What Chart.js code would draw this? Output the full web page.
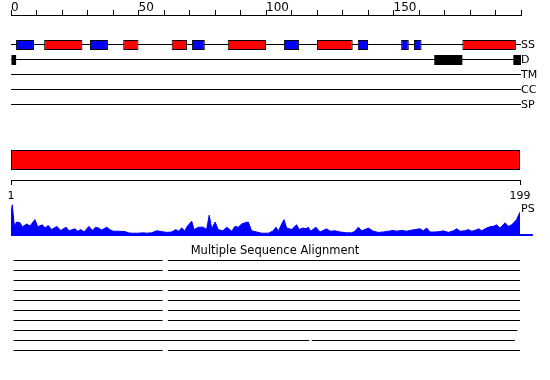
<!DOCTYPE html>
<html>
<head>
<meta charset="utf-8">
<script src="https://cdn.jsdelivr.net/npm/chart.js@4.4.1/dist/chart.umd.min.js"></script>
<style>
  body { margin: 0; background: #fff; }
  #wrap { position: relative; width: 550px; height: 380px; background: #fff; overflow: hidden; }
  #wrap canvas { position: absolute; left: 0; }
</style>
</head>
<body>
<div id="wrap">
  <canvas id="features" width="550" height="115" style="top:0px"></canvas>
  <canvas id="chain" width="550" height="60" style="top:140px"></canvas>
  <canvas id="ps" width="550" height="50" style="top:190px"></canvas>
  <canvas id="msa" width="550" height="120" style="top:240px"></canvas>
</div>
<script>
// ruler on top
const rulerTicks = [0, 10, 20, 30, 40, 50, 60, 70, 80, 90, 100, 110, 120, 130, 140, 150, 160, 170, 180, 190, 200]
const rulerLabels = [0, 50, 100, 150]

// feature tracks
const trackNames = ['SS', 'D', 'TM', 'CC', 'SP']
const strand = [[2, 9], [31, 38], [71, 76], [107, 113], [136, 140], [153, 156], [158, 161]]
const helix = [[13, 28], [44, 50], [63, 69], [85, 100], [120, 134], [177, 198]]
const disorder = [[0, 2], [166, 177], [197, 200]]

// whole chain
const chainEnds = [1, 199]

// PS profile (residue, value)
const psPos = [1, 1.5, 2.3, 3.2, 4.5, 5.4, 7.1, 8.4, 10.3, 11.4,
  13.2, 14.2, 15.5, 16.8, 18.8, 20.4, 22.4, 23.6, 25.9, 26.9,
  28.2, 29.4, 31.3, 32.6, 33.9, 35, 36.3, 38.2, 39.9, 40.8,
  42.7, 45.3, 46.6, 47.9, 50.5, 52.5, 53.8, 55.7, 57.7, 59.6,
  61.6, 63.5, 65.1, 66.1, 67.4, 68.7, 69.3, 71.3, 72.2, 73.9,
  75.8, 77.1, 78.1, 79.1, 80.4, 81.6, 83.4, 84.9, 86.9, 88.1,
  89.4, 90.7, 92, 93.3, 94.6, 96.6, 98.5, 101.1, 102.8, 104.1,
  105, 106.3, 107.2, 108.2, 110.2, 112.1, 113.1, 114.5, 115.8, 116.6,
  117.6, 119.6, 121.2, 123.8, 125.1, 127, 129, 131.6, 133.5, 134.8,
  136.1, 137.4, 138.7, 140, 141.9, 143.9, 145.8, 147.8, 149.7, 151,
  153, 154.9, 156.2, 158.2, 160.1, 161.4, 162.7, 164, 165.9, 167.9,
  169.2, 171.1, 173.1, 174.4, 175.7, 177.6, 178.9, 180.2, 181.5, 183,
  184.1, 186, 187.3, 188.6, 189.9, 191.2, 193.2, 194.4, 195.8, 197.7,
  199]
const psVal = [0.55, 0.78, 0.25, 0.35, 0.33, 0.23, 0.30, 0.25, 0.41, 0.23,
  0.28, 0.20, 0.26, 0.16, 0.24, 0.14, 0.22, 0.13, 0.18, 0.12,
  0.16, 0.10, 0.24, 0.14, 0.22, 0.20, 0.15, 0.22, 0.14, 0.12,
  0.12, 0.11, 0.08, 0.07, 0.07, 0.08, 0.07, 0.08, 0.13, 0.11,
  0.09, 0.10, 0.16, 0.12, 0.20, 0.12, 0.22, 0.37, 0.16, 0.22,
  0.22, 0.16, 0.52, 0.18, 0.35, 0.16, 0.13, 0.22, 0.12, 0.24,
  0.22, 0.30, 0.33, 0.35, 0.13, 0.10, 0.07, 0.07, 0.12, 0.22,
  0.12, 0.30, 0.41, 0.20, 0.16, 0.28, 0.16, 0.20, 0.18, 0.22,
  0.12, 0.22, 0.10, 0.18, 0.12, 0.13, 0.10, 0.08, 0.08, 0.12,
  0.22, 0.13, 0.16, 0.20, 0.12, 0.09, 0.10, 0.12, 0.14, 0.12,
  0.14, 0.12, 0.14, 0.16, 0.18, 0.13, 0.20, 0.10, 0.10, 0.11,
  0.13, 0.09, 0.13, 0.18, 0.12, 0.13, 0.16, 0.12, 0.14, 0.18,
  0.13, 0.20, 0.23, 0.24, 0.28, 0.20, 0.33, 0.24, 0.28, 0.41,
  0.60]
const psBaseEnd = 204
const psLabelAt = 0.68

// alignment hits, one row per hit, each a list of [start, end]
const msaTitle = 'Multiple Sequence Alignment'
const msaRows = [
  [[2, 60], [62, 199]],
  [[2, 60], [62, 199]],
  [[2, 199]],
  [[2, 60], [62, 199]],
  [[2, 60], [62, 199]],
  [[2, 60], [62, 199]],
  [[2, 60], [62, 199]],
  [[2, 198]],
  [[2, 117], [118, 197]],
  [[2, 60], [62, 199]]
]

Chart.defaults.font.family = 'DejaVu Sans'
Chart.defaults.color = '#000'
Chart.defaults.animation = false
Chart.defaults.plugins.legend.display = false
Chart.defaults.plugins.tooltip.enabled = false

function segs(list, row) {
  return list.map(s => ({ x: s, y: row }))
}

// side axis with fixed width and no label overhang padding
function fixWidth(w) {
  return s => { s.width = w; s.paddingTop = 0; s.paddingBottom = 0 }
}

// invisible side axis used only as a margin
function spacer(pos, w, extra) {
  return Object.assign({
    position: pos, display: true, afterFit: fixWidth(w),
    ticks: { display: false }, grid: { display: false, drawTicks: false }, border: { display: false }
  }, extra || {})
}

// top panel: ruler + feature tracks
new Chart(document.getElementById('features'), {
  type: 'bar',
  data: {
    datasets: [
      { data: segs(strand, 0), backgroundColor: '#0000ff', borderColor: '#000', borderWidth: 1, barThickness: 10 },
      { data: segs(helix, 0), backgroundColor: '#ff0000', borderColor: '#000', borderWidth: 1, barThickness: 10 },
      { data: segs(disorder, 1), backgroundColor: '#000', borderWidth: 0, barThickness: 10 }
    ]
  },
  options: {
    indexAxis: 'y',
    responsive: false,
    datasets: { bar: { grouped: false, inflateAmount: 0, borderSkipped: false } },
    layout: { padding: { left: 11 } },
    scales: {
      x: {
        type: 'linear', position: 'top', min: 0, max: 200,
        afterBuildTicks: s => { s.ticks = rulerTicks.map(v => ({ value: v })) },
        afterFit: s => { s.height = 15 },
        ticks: {
          autoSkip: false, align: 'start', maxRotation: 0, padding: -5, font: { size: 12 },
          callback: v => rulerLabels.includes(v) ? String(v) : ''
        },
        grid: { drawOnChartArea: false, tickLength: 5, color: '#000' },
        border: { color: '#000' }
      },
      y: {
        type: 'linear', position: 'right', reverse: true, min: -2, max: 4.6667,
        offset: false,
        afterBuildTicks: s => { s.ticks = trackNames.map((n, i) => ({ value: i })) },
        afterFit: fixWidth(29),
        ticks: { padding: 0, font: { size: 11 }, callback: v => trackNames[v] },
        grid: { color: '#000', drawTicks: false, offset: false },
        border: { display: false }
      }
    }
  }
})

// whole chain bar with end labels
new Chart(document.getElementById('chain'), {
  type: 'bar',
  data: {
    labels: ['chain'],
    datasets: [{ data: [{ x: chainEnds, y: 'chain' }], backgroundColor: '#ff0000', borderColor: '#000',
      borderWidth: 1, borderSkipped: false, barThickness: 20, inflateAmount: 0 }]
  },
  options: {
    indexAxis: 'y',
    responsive: false,
    layout: { padding: { left: 11, right: 30 } },
    scales: {
      x: {
        type: 'linear', min: chainEnds[0], max: chainEnds[1],
        afterBuildTicks: s => { s.ticks = chainEnds.map(v => ({ value: v })) },
        afterFit: s => { s.height = 20 },
        ticks: { autoSkip: false, maxRotation: 0, padding: 5, font: { size: 11 } },
        grid: { drawOnChartArea: false, tickLength: 5, color: '#000' },
        border: { color: '#000' }
      },
      y: { display: false }
    }
  }
})

// PS profile
new Chart(document.getElementById('ps'), {
  type: 'line',
  data: {
    datasets: [
      { data: psPos.map((p, i) => ({ x: p, y: psVal[i] })), fill: 'origin', backgroundColor: '#0000ff',
        borderColor: '#0000ff', borderWidth: 1, pointRadius: 0, tension: 0 },
      { data: [{ x: 1, y: 0 }, { x: psBaseEnd, y: 0 }], fill: false, borderColor: '#0000ff', borderWidth: 4,
        pointRadius: 0, clip: { left: 0, top: 0, right: 20, bottom: 0 } }
    ]
  },
  options: {
    responsive: false,
    layout: { padding: { left: 11, top: 6, bottom: 4 } },
    scales: {
      x: { type: 'linear', min: 1, max: 199, display: false },
      y: {
        position: 'right', min: 0, max: 1,
        afterBuildTicks: s => { s.ticks = [{ value: psLabelAt }] },
        afterFit: fixWidth(30),
        ticks: { padding: 1, font: { size: 11 }, callback: () => 'PS' },
        grid: { display: false, drawTicks: false },
        border: { display: false }
      }
    }
  }
})

// multiple sequence alignment
const msaBars = []
msaRows.forEach((row, r) => row.forEach(seg => msaBars.push({ x: seg, y: r })))

new Chart(document.getElementById('msa'), {
  type: 'bar',
  data: {
    datasets: [{ data: msaBars, backgroundColor: '#000', borderWidth: 0, barThickness: 1, grouped: false, inflateAmount: 0 }]
  },
  options: {
    indexAxis: 'y',
    responsive: false,
    plugins: {
      title: {
        display: true, text: msaTitle, color: '#000',
        font: { size: 11.5, weight: 'normal', lineHeight: '14px' },
        padding: { top: 4, bottom: 2 }
      }
    },
    scales: {
      x: { type: 'linear', min: 1, max: 199, display: false },
      y: spacer('left', 11, { type: 'linear', reverse: true, min: -0.05, max: 9.95, offset: false }),
      yRight: spacer('right', 30, { type: 'linear' })
    }
  }
})
</script>
</body>
</html>
